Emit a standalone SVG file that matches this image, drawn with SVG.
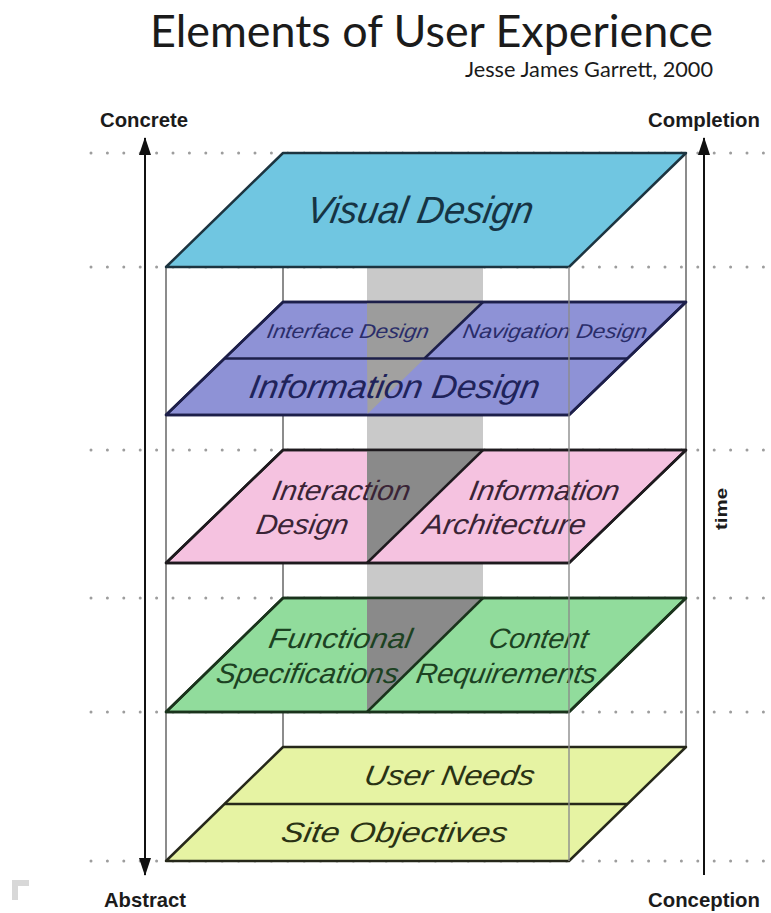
<svg xmlns="http://www.w3.org/2000/svg" width="771" height="913" viewBox="0 0 771 913">
<style>
.title{font-family:Lato,"Open Sans","Liberation Sans",sans-serif;fill:#1b1b1b}
.axis{font-family:"Liberation Sans Narrow","Liberation Sans",Arial,sans-serif;font-weight:bold;fill:#1b1b1b}
.lbl{font-family:"Liberation Sans Narrow","Liberation Sans",Arial,sans-serif;font-style:italic;text-anchor:middle}
.dots{stroke:#9d9d9d;stroke-width:3;stroke-dasharray:0 16.4;stroke-linecap:round;fill:none}
.frame{stroke:#8c8c8c;stroke-width:2;fill:none}
.plane{stroke-width:2.5;stroke-linejoin:round}
.arrow{stroke:#111;stroke-width:2;fill:none}
</style>
<defs>
<marker id="ah" viewBox="0 0 18 12" refX="17" refY="6" markerWidth="18" markerHeight="12" markerUnits="userSpaceOnUse" orient="auto-start-reverse">
<path d="M0,0 L18,6 L0,12 z" fill="#111"/>
</marker>
</defs>
<rect width="771" height="913" fill="#fff"/>
<path d="M12,880 h17 v6 h-11 v14 h-6 z" fill="#d8d8d8"/>

<g id="title">
<text class="title" x="150" y="47" font-size="44" textLength="563" lengthAdjust="spacingAndGlyphs">Elements of User Experience</text>
<text class="title" x="465" y="77" font-size="21" textLength="248" lengthAdjust="spacingAndGlyphs">Jesse James Garrett, 2000</text>
</g>

<g id="guides">
<line class="dots" x1="91" y1="153" x2="770" y2="153"/>
<line class="dots" x1="91" y1="267" x2="770" y2="267"/>
<line class="dots" x1="91" y1="450" x2="770" y2="450"/>
<line class="dots" x1="91" y1="598" x2="770" y2="598"/>
<line class="dots" x1="91" y1="712" x2="770" y2="712"/>
<line class="dots" x1="91" y1="861" x2="770" y2="861"/>
</g>

<g id="frame-back">
<line class="frame" x1="166" y1="267" x2="166" y2="861"/>
<line class="frame" x1="283" y1="267" x2="283" y2="747"/>
<line class="frame" x1="686" y1="153" x2="686" y2="747"/>
</g>

<g id="divider-wall">
<rect x="367" y="267" width="116" height="331" fill="#c9c9c9"/>
</g>

<g id="visual-design">
<path class="plane" d="M283,153 L686,153 L569,267 L166,267 Z" fill="#70c6e1" stroke="#1c3440"/>
<text class="lbl" transform="translate(418,223) skewX(-10)" font-size="38" fill="#163444" textLength="226" lengthAdjust="spacingAndGlyphs">Visual Design</text>
</g>

<g id="interface-navigation-information">
<path class="plane" d="M283,302 L686,302 L569,415 L166,415 Z" fill="#8e92d6" stroke="#1d1f4a"/>
<path d="M367,302 L483,302 L424.5,358.5 L367,358.5 Z" fill="#9c9c9c"/>
<path d="M367,358.5 L424.5,358.5 L367.5,414 Z" fill="#a2a1a0"/>
<path class="plane" d="M224.5,358.5 L627.5,358.5" fill="none" stroke="#1d1f4a"/>
<path class="plane" d="M483,302 L424.5,358.5" fill="none" stroke="#1d1f4a"/>
<path class="plane" d="M283,302 L686,302 L569,415 L166,415 Z" fill="none" stroke="#1d1f4a"/>
<text class="lbl" transform="translate(347,338) skewX(-10)" font-size="20" fill="#2a2d6a" textLength="162" lengthAdjust="spacingAndGlyphs">Interface Design</text>
<text class="lbl" transform="translate(554,338) skewX(-10)" font-size="20" fill="#2a2d6a" textLength="184" lengthAdjust="spacingAndGlyphs">Navigation Design</text>
<text class="lbl" transform="translate(393,398) skewX(-10)" font-size="33" fill="#20235a" textLength="290" lengthAdjust="spacingAndGlyphs">Information Design</text>
</g>

<g id="interaction-architecture">
<path class="plane" d="M283,450 L686,450 L569,563 L166,563 Z" fill="#f5c2e0" stroke="#1e1a1e"/>
<path d="M367,450 L483,450 L367,563 Z" fill="#8a8a8a"/>
<path class="plane" d="M483,450 L367,563" fill="none" stroke="#1e1a1e"/>
<path class="plane" d="M283,450 L686,450 L569,563 L166,563 Z" fill="none" stroke="#1e1a1e"/>
<text class="lbl" transform="translate(340,500) skewX(-10)" font-size="28" fill="#3a2436" textLength="138" lengthAdjust="spacingAndGlyphs">Interaction</text>
<text class="lbl" transform="translate(301,534) skewX(-10)" font-size="28" fill="#3a2436" textLength="92" lengthAdjust="spacingAndGlyphs">Design</text>
<text class="lbl" transform="translate(543,500) skewX(-10)" font-size="28" fill="#3a2436" textLength="150" lengthAdjust="spacingAndGlyphs">Information</text>
<text class="lbl" transform="translate(503,534) skewX(-10)" font-size="28" fill="#3a2436" textLength="163" lengthAdjust="spacingAndGlyphs">Architecture</text>
</g>

<g id="functional-content">
<path class="plane" d="M283,598 L686,598 L569,712 L166,712 Z" fill="#91dc9c" stroke="#1a331c"/>
<path d="M367,598 L483,598 L367,712 Z" fill="#8a8a8a"/>
<path class="plane" d="M483,598 L367,712" fill="none" stroke="#1a331c"/>
<path class="plane" d="M283,598 L686,598 L569,712 L166,712 Z" fill="none" stroke="#1a331c"/>
<text class="lbl" transform="translate(339,648) skewX(-10)" font-size="28" fill="#1c4222" textLength="143" lengthAdjust="spacingAndGlyphs">Functional</text>
<text class="lbl" transform="translate(306,683) skewX(-10)" font-size="28" fill="#1c4222" textLength="182" lengthAdjust="spacingAndGlyphs">Specifications</text>
<text class="lbl" transform="translate(537,648) skewX(-10)" font-size="28" fill="#1c4222" textLength="99" lengthAdjust="spacingAndGlyphs">Content</text>
<text class="lbl" transform="translate(505,683) skewX(-10)" font-size="28" fill="#1c4222" textLength="180" lengthAdjust="spacingAndGlyphs">Requirements</text>
</g>

<g id="user-needs-site-objectives">
<path class="plane" d="M283,747 L686,747 L569,861 L166,861 Z" fill="#e6f3a3" stroke="#26281a"/>
<path class="plane" d="M224.5,804 L627.5,804" fill="none" stroke="#26281a"/>
<text class="lbl" transform="translate(448,785) skewX(-10)" font-size="28" fill="#2a3214" textLength="170" lengthAdjust="spacingAndGlyphs">User Needs</text>
<text class="lbl" transform="translate(393,842) skewX(-10)" font-size="28" fill="#2a3214" textLength="226" lengthAdjust="spacingAndGlyphs">Site Objectives</text>
</g>

<g id="frame-front">
<line class="frame" x1="569" y1="267" x2="569" y2="861" opacity="0.7"/>
</g>

<g id="connectors">
<line class="arrow" x1="145" y1="875" x2="145" y2="138" marker-start="url(#ah)" marker-end="url(#ah)"/>
<line class="arrow" x1="704" y1="875" x2="704" y2="138" marker-end="url(#ah)"/>
</g>

<g id="axis-labels">
<text class="axis" x="100" y="127" font-size="21" textLength="88" lengthAdjust="spacingAndGlyphs">Concrete</text>
<text class="axis" x="648" y="127" font-size="21" textLength="112" lengthAdjust="spacingAndGlyphs">Completion</text>
<text class="axis" x="104" y="907" font-size="21" textLength="82" lengthAdjust="spacingAndGlyphs">Abstract</text>
<text class="axis" x="648" y="907" font-size="21" textLength="112" lengthAdjust="spacingAndGlyphs">Conception</text>
<text class="axis" transform="translate(727,509) rotate(-90)" text-anchor="middle" font-size="17" textLength="42" lengthAdjust="spacingAndGlyphs">time</text>
</g>
</svg>
